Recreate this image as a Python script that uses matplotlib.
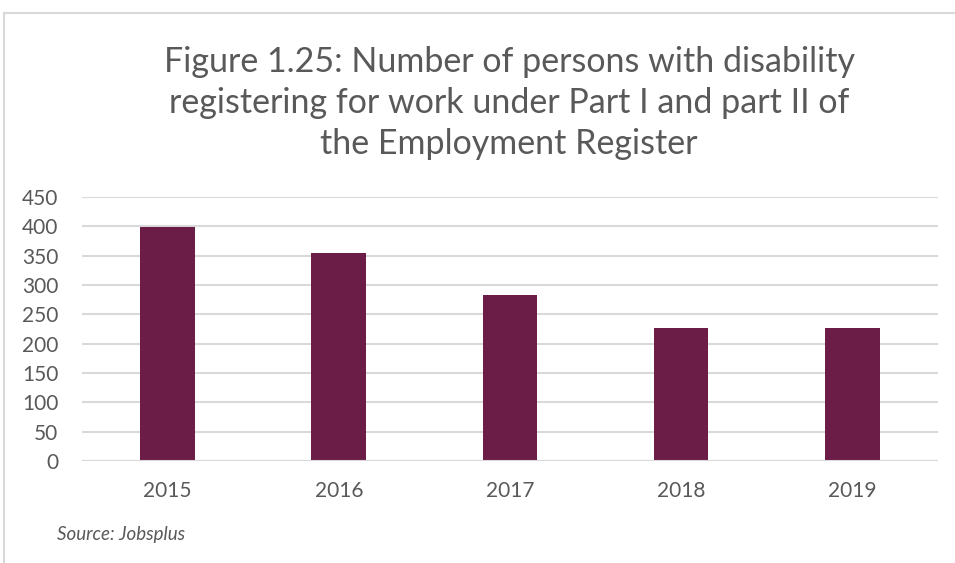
import matplotlib.pyplot as plt
from matplotlib.patches import Rectangle

years = ['2015', '2016', '2017', '2018', '2019']
persons = [399, 355, 283, 226, 227]
y_ticks = [0, 50, 100, 150, 200, 250, 300, 350, 400, 450]

bar_color = '#6B1C47'
text_color = '#595959'
grid_color = '#D9D9D9'

plt.rcParams['font.family'] = ['Lato', 'DejaVu Sans']

fig = plt.figure(figsize=(9.55, 5.63), dpi=100)
ax = fig.add_axes([0.086, 0.181, 0.896, 0.469])

x = range(len(years))
ax.bar(x, persons, width=0.32, color=bar_color, zorder=3)

ax.set_xlim(-0.5, len(years) - 0.5)
ax.set_ylim(0, 450)
ax.set_yticks(y_ticks)
ax.set_xticks(list(x))
ax.set_xticklabels(years)
ax.yaxis.grid(True, color=grid_color, linewidth=1.5, zorder=0)
ax.tick_params(axis='both', length=0, labelsize=15, colors=text_color)
ax.tick_params(axis='x', pad=14)
ax.tick_params(axis='y', pad=17)
for s in ax.spines.values():
    s.set_visible(False)
ax.axhline(0, color=grid_color, linewidth=1.5, zorder=4)

fig.text(0.533, 0.817,
         'Figure 1.25: Number of persons with disability\n'
         'registering for work under Part I and part II of\n'
         'the Employment Register',
         ha='center', va='center', fontsize=24.5, color=text_color,
         linespacing=1.36)

fig.text(0.06, 0.05, 'Source: Jobsplus', fontsize=13.5, style='italic',
         color=text_color, ha='left', va='center')

# chart frame
fig.patches.append(Rectangle((0.004, -0.01), 1.0, 0.987, transform=fig.transFigure,
                             fill=False, edgecolor='#D9D9D9', linewidth=1.5))

fig.savefig('out.png', dpi=100)
